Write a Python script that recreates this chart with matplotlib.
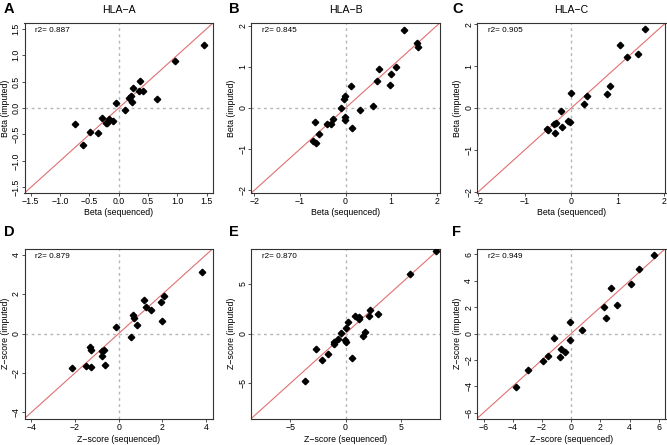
import numpy as np
import matplotlib
matplotlib.use("Agg")
import matplotlib.pyplot as plt

plt.rcParams["font.family"] = ["Liberation Sans", "DejaVu Sans"]

# panel A: HLA-A, beta
a_x = [1.455, 0.962, 0.362, 0.249, 0.351, 0.407, 0.215, 0.170, 0.232, 0.651,
       -0.040, 0.113, -0.289, -0.164, -0.220, -0.200, -0.102, -0.747, -0.490, -0.357, -0.611]
a_y = [1.186, 0.884, 0.513, 0.374, 0.324, 0.324, 0.236, 0.186, 0.116, 0.173,
       0.097, -0.041, -0.192, -0.204, -0.275, -0.290, -0.242, -0.311, -0.460, -0.475, -0.695]

# panel B: HLA-B, beta
b_x = [1.285, 1.562, 1.584, 1.117, 0.990, 0.970, 0.745, 0.700, 0.613, 0.328,
       0.110, -0.007, -0.030, -0.095, -0.007, -0.007, 0.139, -0.277, -0.400, -0.330,
       -0.679, -0.584, -0.708, -0.650]
b_y = [1.888, 1.584, 1.488, 1.008, 0.832, 0.552, 0.952, 0.648, 0.048, -0.056,
       0.544, 0.304, 0.224, 0.008, -0.208, -0.304, -0.480, -0.272, -0.384, -0.384,
       -0.352, -0.624, -0.792, -0.848]

# panel C: HLA-C, beta
c_x = [1.580, 1.058, 1.442, 1.203, 0.840, 0.760, 0.333, 0.283, -0.007, -0.225,
       -0.080, -0.022, -0.196, -0.326, -0.370, -0.355, -0.529, -0.493]
c_y = [1.888, 1.512, 1.280, 1.216, 0.520, 0.344, 0.288, 0.096, 0.368, -0.080,
       -0.304, -0.328, -0.456, -0.360, -0.384, -0.600, -0.512, -0.536]

# panel D: HLA-A, z-score
d_x = [3.785, 2.087, 1.950, 1.980, 1.154, 1.246, 1.490, 0.635, 0.696, 0.833,
       0.573, -0.130, -0.665, -0.757, -0.772, -1.250, -1.320, -0.650, -1.506, -1.290, -2.120]
d_y = [3.109, 1.916, 1.613, 0.655, 1.714, 1.360, 1.210, 0.924, 0.807, 0.437,
       -0.185, 0.353, -0.840, -0.874, -1.143, -0.840, -0.670, -1.610, -1.630, -1.700, -1.765]

# panel E: HLA-B, z-score
e_x = [8.18, 5.85, 2.97, 2.21, 2.12, 0.88, 1.18, 1.24, 0.24, 1.73,
       1.55, 0.00, -0.42, -0.73, -1.09, -1.03, -0.06, 0.06, 0.61, -2.70,
       -1.58, -2.18, -3.64]
e_y = [8.30, 6.01, 2.00, 2.34, 1.73, 1.80, 1.50, 1.63, 1.13, 0.19,
       -0.22, 0.52, 0.05, -0.56, -1.06, -0.89, -0.69, -0.89, -2.44, -1.57,
       -2.04, -2.64, -4.73]

# panel F: HLA-C, z-score
f_x = [5.63, 4.61, 4.10, 2.73, 3.12, 2.21, 2.39, 0.74, -0.06, -0.06,
       -1.15, -0.72, -0.45, -0.79, -1.56, -1.93, -2.96, -3.76]
f_y = [5.95, 4.89, 3.75, 3.42, 2.18, 2.03, 1.16, 0.30, 0.86, -0.48,
       -0.35, -1.19, -1.37, -1.82, -1.70, -2.08, -2.76, -4.05]

letters = ["A", "B", "C", "D", "E", "F"]
titles = ["HLA\u2212A", "HLA\u2212B", "HLA\u2212C", "", "", ""]
r2_text = ["0.887", "0.845", "0.905", "0.879", "0.870", "0.949"]
lims = [1.605, 2.07, 2.03, 4.31, 8.55, 6.45]
ticks = [[-1.5, -1.0, -0.5, 0.0, 0.5, 1.0, 1.5], [-2, -1, 0, 1, 2], [-2, -1, 0, 1, 2],
         [-4, -2, 0, 2, 4], [-5, 0, 5], [-6, -4, -2, 0, 2, 4, 6]]
xlabels = ["Beta (sequenced)"] * 3 + ["Z\u2212score (sequenced)"] * 3
ylabels = ["Beta (imputed)"] * 3 + ["Z\u2212score (imputed)"] * 3
xs = [a_x, b_x, c_x, d_x, e_x, f_x]
ys = [a_y, b_y, c_y, d_y, e_y, f_y]

W, H = 667, 445
fig = plt.figure(figsize=(W / 100, H / 100), dpi=100)
lefts = [24.5, 251.3, 477.0]
tops = [23.0, 248.5]
aw, ah = 188.5, 170.0

for i in range(6):
    r, c = divmod(i, 3)
    ax = fig.add_axes([lefts[c] / W, 1 - (tops[r] + ah) / H, aw / W, ah / H])
    lim = lims[i]
    ax.axvline(0, color="#b5b5b5", lw=1.0, ls=(0, (2, 2.5)), zorder=1)
    ax.axhline(0, color="#b5b5b5", lw=1.0, ls=(0, (2, 2.5)), zorder=1)
    ax.plot([-lim, lim], [-lim, lim], color="#e07070", lw=0.8, zorder=2)
    ax.plot(xs[i], ys[i], ls="none", marker="D", ms=3.3, color="black", zorder=3)
    ax.set_xlim(-lim, lim)
    ax.set_ylim(-lim, lim)
    ax.set_xticks(ticks[i])
    ax.set_yticks(ticks[i])
    if i == 0:
        fmt = [f"{t:.1f}" for t in ticks[i]]
    else:
        fmt = [f"{t:d}" for t in ticks[i]]
    fmt = [s.replace("-", "\u2212") for s in fmt]
    ax.set_xticklabels(fmt)
    ax.set_yticklabels(fmt, rotation=90, va="center")
    ax.tick_params(length=2.4, width=0.6, labelsize=6.3, color="#333333")
    ax.tick_params(axis="x", pad=0.8)
    ax.tick_params(axis="y", pad=0.3)
    for s in ax.spines.values():
        s.set_color("#333333")
        s.set_linewidth(0.8)
    ax.set_xlabel(xlabels[i], fontsize=6.3, va="center")
    ax.set_ylabel(ylabels[i], fontsize=6.3, va="center")
    ax.xaxis.set_label_coords(0.5, -0.113 if r == 0 else -0.122)
    ax.yaxis.set_label_coords(-19.5 / aw, 0.5)
    ax.text(0.058, 0.955, "r2= " + r2_text[i], transform=ax.transAxes,
            fontsize=5.9, ha="left", va="center")
    if titles[i]:
        ax.set_title(titles[i], fontsize=7.6, pad=7)
    lx = [4, 229, 452][c]
    ly = [9, 232][r]
    fig.text(lx / W, 1 - ly / H, letters[i], fontsize=10.5, fontweight="bold",
             ha="left", va="center")

fig.savefig("out.png", dpi=100)
